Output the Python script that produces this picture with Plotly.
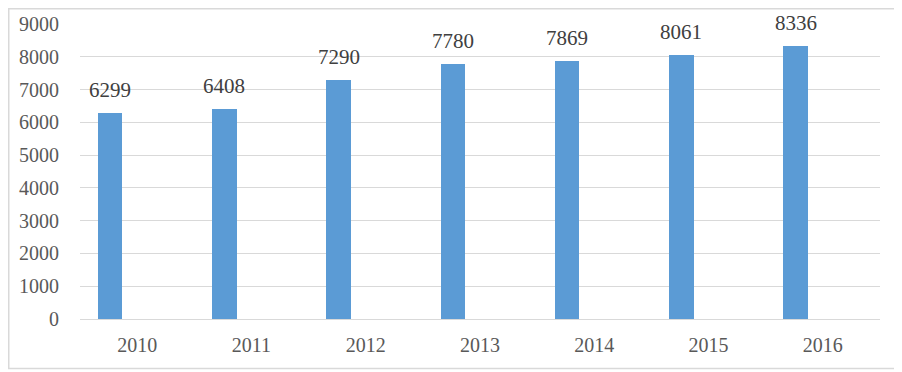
import plotly.graph_objects as go

years = ["2010", "2011", "2012", "2013", "2014", "2015", "2016"]
values = [6299, 6408, 7290, 7780, 7869, 8061, 8336]
y_ticks = [0, 1000, 2000, 3000, 4000, 5000, 6000, 7000, 8000, 9000]

BAR_OFFSET = -0.345
BAR_WIDTH = 0.215

fig = go.Figure()
fig.add_trace(go.Bar(
    x=years, y=values,
    offset=BAR_OFFSET, width=BAR_WIDTH,
    marker=dict(color="#5b9bd5", line=dict(width=0)),
    hoverinfo="x+y",
))

for i, v in enumerate(values):
    fig.add_annotation(
        x=i + BAR_OFFSET + BAR_WIDTH / 2, y=v,
        xref="x", yref="y",
        text=str(v), showarrow=False,
        yanchor="bottom", yshift=9,
        font=dict(family="Liberation Serif", size=21, color="#404040"),
    )

# page has an 8px body margin, so the figure is sized to fit the window
W, H = 894, 364
L, R, T, B = 72, 22, 16, 53
pw, ph = W - L - R, H - T - B
def px_x(p):
    return (p - L) / pw
def px_y(p):
    return (H - B - p) / ph

fig.add_shape(type="rect", xref="paper", yref="paper",
              x0=px_x(0.75), x1=px_x(890.5), y0=px_y(360.5), y1=px_y(0.75),
              line=dict(color="#d9d9d9", width=1.5), layer="below")

fig.update_layout(
    width=W, height=H,
    margin=dict(l=L, r=R, t=T, b=B),
    paper_bgcolor="white", plot_bgcolor="white",
    showlegend=False,
    bargap=0,
    font=dict(family="Liberation Serif", size=20, color="#595959"),
    xaxis=dict(
        type="category", range=[-0.5, 6.5], automargin=False,
        showgrid=False, showline=False, zeroline=False,
        ticks="", ticklabelstandoff=12,
        tickfont=dict(size=20, color="#595959"),
    ),
    yaxis=dict(
        range=[0, 9000], tickvals=y_ticks, automargin=False,
        showgrid=True, gridcolor="#d9d9d9", gridwidth=1,
        zeroline=True, zerolinecolor="#d9d9d9", zerolinewidth=1,
        showline=False, ticks="", ticklabelstandoff=20,
        tickfont=dict(size=20, color="#595959"),
    ),
)

fig.write_html("out.html")
